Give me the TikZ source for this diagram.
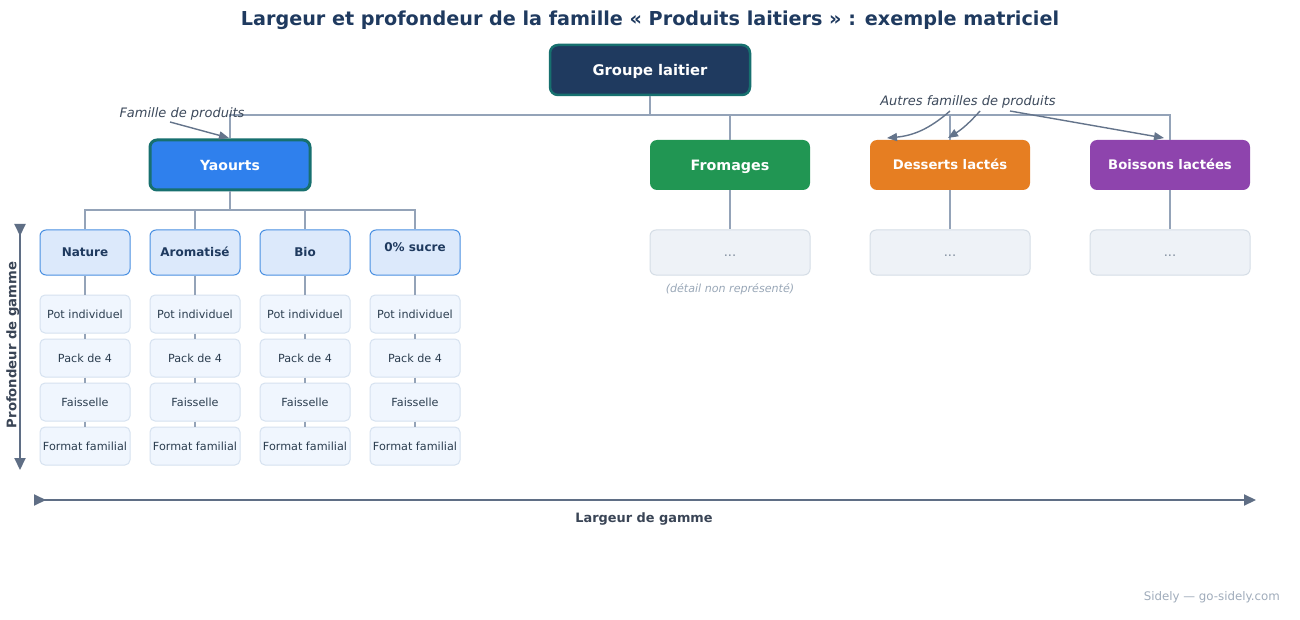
\documentclass[tikz,border=0pt]{standalone}
\usepackage{fontspec}
\setmainfont{DejaVu Sans}
\usetikzlibrary{arrows.meta}
\definecolor{navy}{HTML}{1F3A5F}
\definecolor{tealb}{HTML}{17706F}
\definecolor{yblue}{HTML}{2F80ED}
\definecolor{fgreen}{HTML}{219653}
\definecolor{dorange}{HTML}{E67E22}
\definecolor{bpurple}{HTML}{8E44AD}
\definecolor{connc}{HTML}{94A3B8}
\definecolor{subfill}{HTML}{DCE9FB}
\definecolor{subdraw}{HTML}{4A90E2}
\definecolor{itfill}{HTML}{F0F6FE}
\definecolor{itdraw}{HTML}{D6E2F0}
\definecolor{ittext}{HTML}{2C3E50}
\definecolor{dotfill}{HTML}{EEF2F7}
\definecolor{dotdraw}{HTML}{D5DDE6}
\definecolor{dottext}{HTML}{7F8C9D}
\definecolor{anntext}{HTML}{3D4A5C}
\definecolor{annarrow}{HTML}{64748B}
\definecolor{axisc}{HTML}{5F6E85}
\definecolor{axislab}{HTML}{3A4556}
\definecolor{notec}{HTML}{9AA8B8}
\definecolor{footc}{HTML}{A0ACBB}
\newcommand\myfs[1]{\fontsize{#1}{#1}\selectfont}
\tikzset{
  cap/.style={text height=#1, text depth=0pt},
  famnode/.style={rectangle, rounded corners=7pt, minimum width=160pt, minimum height=50pt, inner sep=0pt, text=white, font=\myfs{13.2}\bfseries, cap=9.6pt},
  subbox/.style={rectangle, rounded corners=6pt, minimum width=90pt, minimum height=45pt, inner sep=0pt, fill=subfill, draw=subdraw, line width=1pt, text=navy, font=\myfs{12}\bfseries, cap=8.75pt},
  itembox/.style={rectangle, rounded corners=5pt, minimum width=90pt, minimum height=38pt, inner sep=0pt, fill=itfill, draw=itdraw, line width=1pt, text=ittext, font=\myfs{11.2}, cap=8.2pt},
  dotbox/.style={rectangle, rounded corners=6pt, minimum width=160pt, minimum height=45pt, inner sep=0pt, fill=dotfill, draw=dotdraw, line width=1pt, text=dottext, font=\myfs{13}, cap=8.5pt},
  conn/.style={draw=connc, line width=1.8pt},
  ann/.style={draw=annarrow, line width=1.4pt, -{Triangle[length=10pt,width=8pt]}},
  axis/.style={draw=axisc, line width=2pt, {Triangle[reversed,length=12pt,width=11pt]}-{Triangle[length=12pt,width=11pt]}},
}
\begin{document}
\begin{tikzpicture}[x=1pt,y=-1pt]
\useasboundingbox (0,0) rectangle (1300,620);
\fill[white] (0,0) rectangle (1300,620);
% title
\node[text=navy, font=\myfs{19.2}\bfseries, cap=14pt, inner sep=0pt] (title) at (650,19) {Largeur et profondeur de la famille « Produits laitiers » : exemple matriciel};
% group
\node[rectangle, rounded corners=8pt, minimum width=200pt, minimum height=50pt, inner sep=0pt, fill=navy, draw=tealb, line width=2.5pt, text=white, font=\myfs{14.7}\bfseries, cap=10.7pt] (g) at (650,70) {Groupe laitier};
% families
\node[famnode, fill=yblue, draw=tealb, line width=3pt, font=\myfs{14}\bfseries, cap=10.2pt] (yao) at (230,165) {Yaourts};
\node[famnode, fill=fgreen, font=\myfs{14.3}\bfseries, cap=10.4pt] (fro) at (730,165) {Fromages};
\node[famnode, fill=dorange] (des) at (950,165) {Desserts lactés};
\node[famnode, fill=bpurple] (boi) at (1170,165) {Boissons lactées};
% connectors top
\coordinate (hl) at (650,115);
\draw[conn] (g.south) -- (hl);
\draw[conn] (yao.north) -- (yao.north |- hl) -- (boi.north |- hl) -- (boi.north);
\draw[conn] (fro.north) -- (fro.north |- hl);
\draw[conn] (des.north) -- (des.north |- hl);
% subfamilies
\node[subbox] (n1) at (85,252.5) {Nature};
\node[subbox] (n2) at (195,252.5) {Aromatisé};
\node[subbox] (n3) at (305,252.5) {Bio};
\node[subbox] (n4) at (415,252.5) {};
\node[text=navy, font=\myfs{12}\bfseries, cap=8.75pt, inner sep=0pt] (n4t) at (415,247.5) {0\% sucre};
\coordinate (hl2) at (230,210);
\draw[conn] (yao.south) -- (hl2);
\draw[conn] (n1.north) -- (n1.north |- hl2) -- (n4.north |- hl2) -- (n4.north);
\draw[conn] (n2.north) -- (n2.north |- hl2);
\draw[conn] (n3.north) -- (n3.north |- hl2);
% items
\foreach \i/\x in {1/85,2/195,3/305,4/415}{
  \node[itembox] (p\i) at (\x,314) {Pot individuel};
  \node[itembox] (k\i) at (\x,358) {Pack de 4};
  \node[itembox] (f\i) at (\x,402) {Faisselle};
  \node[itembox] (m\i) at (\x,446) {Format familial};
  \draw[conn] (n\i.south) -- (p\i.north);
  \draw[conn] (p\i.south) -- (k\i.north);
  \draw[conn] (k\i.south) -- (f\i.north);
  \draw[conn] (f\i.south) -- (m\i.north);
}
% dots boxes
\node[dotbox] (d1) at (730,252.5) {...};
\node[dotbox] (d2) at (950,252.5) {...};
\node[dotbox] (d3) at (1170,252.5) {...};
\draw[conn] (fro.south) -- (d1.north);
\draw[conn] (des.south) -- (d2.north);
\draw[conn] (boi.south) -- (d3.north);
\node[text=notec, font=\myfs{11.1}\itshape, cap=8.1pt, inner sep=0pt] (note) at (730,288) {(détail non représenté)};
% annotations
\node[text=anntext, font=\myfs{13}\itshape, cap=9.5pt, inner sep=0pt] (fam) at (182,113) {Famille de produits};
\coordinate (fa) at (170,122);
\coordinate (fb) at (229,138);
\draw[ann] (fa) -- (fb);
\node[text=anntext, font=\myfs{13}\itshape, cap=9.5pt, inner sep=0pt] (aut) at (968,100.5) {Autres familles de produits};
\coordinate (a1s) at (950,111);
\coordinate (a1e) at (887,138);
\coordinate (a2s) at (980,111);
\coordinate (a2e) at (948,138);
\coordinate (a3s) at (1010,111);
\coordinate (a3e) at (1164,138);
\draw[ann] (a1s) to[bend left=18] (a1e);
\draw[ann] (a2s) to[bend left=8] (a2e);
\draw[ann] (a3s) -- (a3e);
% axes
\coordinate (vt) at (20,224);
\coordinate (vb) at (20,470);
\draw[axis] (vt) -- (vb);
\node[rotate=90, text=axislab, font=\myfs{13.2}\bfseries, cap=9.6pt, inner sep=0pt] (vlab) at (11.5,345) {Profondeur de gamme};
\coordinate (hla) at (34,500);
\coordinate (hlb) at (1256,500);
\draw[axis] (hla) -- (hlb);
\node[text=axislab, font=\myfs{12.9}\bfseries, cap=9.4pt, inner sep=0pt] (hlab) at (644,518) {Largeur de gamme};
% footer
\node[anchor=east, text=footc, font=\myfs{11.8}, cap=8.6pt, inner sep=0pt] (foot) at (1280,596) {Sidely — go-sidely.com};
\end{tikzpicture}
\end{document}
